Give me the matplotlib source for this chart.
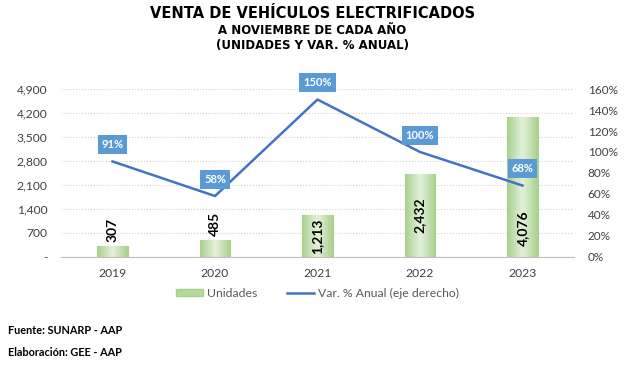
import matplotlib.pyplot as plt
import numpy as np
from matplotlib.patches import Patch
from matplotlib.lines import Line2D

years = ['2019', '2020', '2021', '2022', '2023']
unidades = [307, 485, 1213, 2432, 4076]
var_anual = [91, 58, 150, 100, 68]
left_ticks = [0, 700, 1400, 2100, 2800, 3500, 4200, 4900]
left_tick_labels = ['-', '700', '1,400', '2,100', '2,800', '3,500', '4,200', '4,900']
right_ticks = [0, 20, 40, 60, 80, 100, 120, 140, 160]
label_place = ['above', 'above', 'center', 'center', 'base']

fig = plt.figure(figsize=(6.25, 3.68), dpi=100)
ax = fig.add_axes([0.098, 0.302, 0.82, 0.456])
ax2 = ax.twinx()

x = np.arange(len(years))
bars = ax.bar(x, unidades, width=0.30, color='#C5E0B4', edgecolor='#A9D18E', linewidth=0.8, zorder=2)

# excel-like horizontal gradient inside the bars
grad = np.linspace(0, 1, 64)
grad = 1 - np.abs(grad - 0.5) * 2
cmap = plt.matplotlib.colors.LinearSegmentedColormap.from_list('g', ['#A9D18E', '#E2F0D9'])
for b in bars:
    im = ax.imshow(grad[np.newaxis, :], cmap=cmap, aspect='auto', zorder=2.5,
                   extent=(b.get_x(), b.get_x() + b.get_width(), 0, b.get_height()))
    im.set_clip_path(b)

for xi, v, mode in zip(x, unidades, label_place):
    txt = f'{v:,}'
    kw = dict(rotation=90, ha='center', fontsize=10, fontweight='bold', family='Lato', color='black', zorder=4)
    if mode == 'above':
        ax.annotate(txt, (xi, v), xytext=(0, 3), textcoords='offset points', va='bottom', **kw)
    elif mode == 'center':
        ax.text(xi, v / 2, txt, va='center', **kw)
    else:
        ax.annotate(txt, (xi, 0), xytext=(0, 8), textcoords='offset points', va='bottom', **kw)

ax.set_xlim(-0.5, len(years) - 0.5)
ax.set_ylim(0, 4900)
ax.set_yticks(left_ticks)
ax.set_yticklabels(left_tick_labels)
ax.grid(axis='y', linestyle=':', color='#D0D0D0', linewidth=0.8, zorder=0)
ax.set_axisbelow(True)
ax.set_xticks(x)
ax.set_xticklabels(years)
for s in ['top', 'right', 'left']:
    ax.spines[s].set_visible(False)
ax.spines['bottom'].set_color('#BFBFBF')
ax.tick_params(axis='both', length=0, labelsize=8.7, colors='#404040', pad=8)
ax.tick_params(axis='y', pad=10)
for lab in ax.get_xticklabels() + ax.get_yticklabels():
    lab.set_family('Lato')

ax2.plot(x, var_anual, color='#4472C4', linewidth=1.8, zorder=5)
ax2.set_ylim(0, 160)
ax2.set_yticks(right_ticks)
ax2.set_yticklabels([f'{t}%' for t in right_ticks])
ax2.tick_params(axis='y', length=0, labelsize=8.5, colors='#404040', pad=10)
for lab in ax2.get_yticklabels():
    lab.set_family('Lato')
for s in ax2.spines.values():
    s.set_visible(False)

for xi, v in zip(x, var_anual):
    ax2.annotate(f'{v}%', (xi, v), xytext=(0, 12), textcoords='offset points',
                 ha='center', va='center', fontsize=8, fontweight='bold', family='Lato', color='white',
                 bbox=dict(boxstyle='square,pad=0.35', fc='#5B9BD5', ec='none'), zorder=6)

handles = [Patch(facecolor='#B5D99C', edgecolor='#A9D18E'),
           Line2D([0], [0], color='#4472C4', linewidth=1.8)]
fig.legend(handles, ['Unidades', 'Var. % Anual (eje derecho)'], loc='center', bbox_to_anchor=(0.508, 0.203),
           ncol=2, frameon=False, prop={'family': 'Lato', 'size': 8.8}, labelcolor='#595959',
           handlelength=2.2, handleheight=0.6, columnspacing=2.5, handletextpad=0.3)

fig.text(0.5, 0.962, 'VENTA DE VEHÍCULOS ELECTRIFICADOS', ha='center', va='center',
         fontsize=10.5, fontweight='bold', family='DejaVu Sans', color='black')
fig.text(0.5, 0.916, 'A NOVIEMBRE DE CADA AÑO', ha='center', va='center',
         fontsize=8.5, fontweight='bold', family='DejaVu Sans', color='black')
fig.text(0.5, 0.877, '(UNIDADES Y VAR. % ANUAL)', ha='center', va='center',
         fontsize=8.5, fontweight='bold', family='DejaVu Sans', color='black')

fig.text(0.013, 0.103, 'Fuente: SUNARP - AAP', ha='left', va='center', fontsize=7.8, fontweight='bold', family='Lato')
fig.text(0.013, 0.043, 'Elaboración: GEE - AAP', ha='left', va='center', fontsize=7.8, fontweight='bold', family='Lato')

fig.savefig('out.png', dpi=100, facecolor='white')
